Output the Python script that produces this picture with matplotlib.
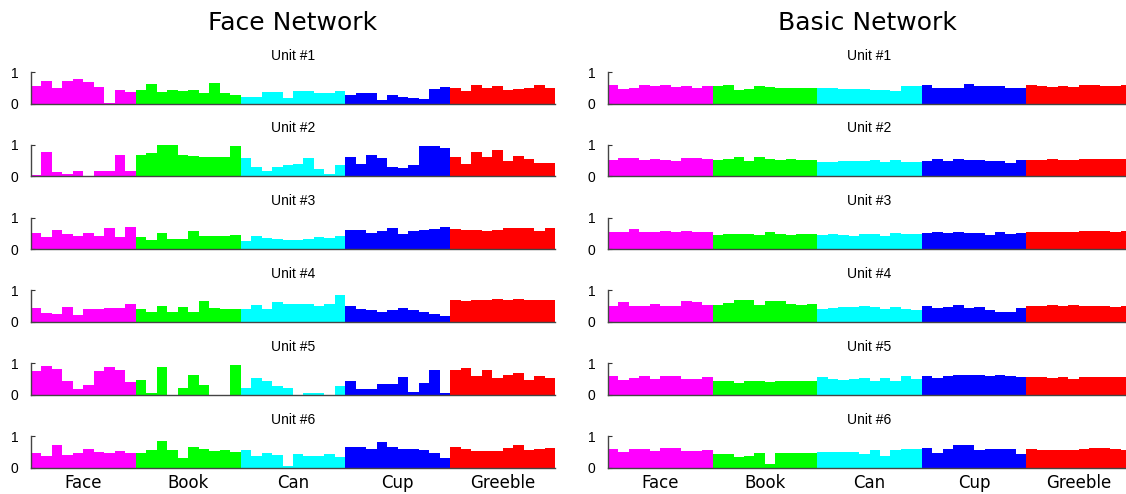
import numpy as np
import matplotlib
matplotlib.use("Agg")
import matplotlib.pyplot as plt

plt.rcParams['font.family'] = ['Liberation Sans', 'DejaVu Sans']

# categories and colours
categories = ['Face', 'Book', 'Can', 'Cup', 'Greeble']
cat_colors = ['#ff00ff', '#00ff00', '#00ffff', '#0000ff', '#ff0000']
n_per_cat = 10

# Face network, units 1-6 (10 stimuli per category)
face_u1 = [0.56, 0.72, 0.49, 0.72, 0.79, 0.67, 0.53, 0.02, 0.44, 0.37,
           0.44, 0.63, 0.37, 0.42, 0.40, 0.44, 0.32, 0.65, 0.32, 0.26,
           0.21, 0.22, 0.37, 0.36, 0.18, 0.40, 0.40, 0.34, 0.32, 0.40,
           0.28, 0.33, 0.33, 0.10, 0.26, 0.22, 0.18, 0.15, 0.45, 0.52,
           0.50, 0.40, 0.60, 0.50, 0.57, 0.42, 0.45, 0.50, 0.60, 0.50]
face_u2 = [0.05, 0.78, 0.14, 0.08, 0.18, 0.00, 0.16, 0.18, 0.68, 0.16,
           0.67, 0.74, 1.00, 1.00, 0.67, 0.65, 0.62, 0.62, 0.62, 0.96,
           0.57, 0.29, 0.16, 0.29, 0.36, 0.38, 0.57, 0.22, 0.08, 0.35,
           0.62, 0.38, 0.68, 0.57, 0.29, 0.25, 0.35, 0.95, 0.97, 0.90,
           0.62, 0.38, 0.76, 0.60, 0.85, 0.49, 0.65, 0.54, 0.42, 0.42]
face_u3 = [0.50, 0.38, 0.62, 0.47, 0.42, 0.50, 0.42, 0.67, 0.38, 0.70,
           0.37, 0.30, 0.50, 0.31, 0.33, 0.58, 0.42, 0.42, 0.40, 0.46,
           0.25, 0.40, 0.35, 0.33, 0.30, 0.30, 0.32, 0.38, 0.35, 0.40,
           0.60, 0.60, 0.52, 0.58, 0.68, 0.47, 0.58, 0.62, 0.63, 0.70,
           0.64, 0.60, 0.60, 0.57, 0.60, 0.68, 0.66, 0.66, 0.56, 0.66]
face_u4 = [0.43, 0.28, 0.25, 0.47, 0.23, 0.42, 0.42, 0.45, 0.45, 0.58,
           0.40, 0.30, 0.50, 0.30, 0.46, 0.30, 0.66, 0.45, 0.40, 0.42,
           0.42, 0.55, 0.40, 0.64, 0.57, 0.57, 0.57, 0.52, 0.56, 0.85,
           0.50, 0.42, 0.38, 0.32, 0.38, 0.43, 0.38, 0.30, 0.25, 0.20,
           0.68, 0.66, 0.70, 0.70, 0.72, 0.70, 0.72, 0.70, 0.68, 0.70]
face_u5 = [0.75, 0.90, 0.82, 0.45, 0.18, 0.30, 0.75, 0.87, 0.78, 0.40,
           0.47, 0.05, 0.87, 0.00, 0.20, 0.62, 0.30, 0.00, 0.00, 0.95,
           0.20, 0.52, 0.42, 0.28, 0.22, 0.00, 0.06, 0.06, 0.00, 0.28,
           0.43, 0.18, 0.18, 0.35, 0.35, 0.55, 0.10, 0.38, 0.78, 0.05,
           0.78, 0.86, 0.60, 0.77, 0.52, 0.63, 0.68, 0.48, 0.60, 0.52]
face_u6 = [0.45, 0.38, 0.70, 0.40, 0.45, 0.58, 0.50, 0.45, 0.52, 0.45,
           0.45, 0.57, 0.85, 0.57, 0.30, 0.65, 0.60, 0.53, 0.57, 0.50,
           0.55, 0.38, 0.47, 0.40, 0.05, 0.42, 0.35, 0.38, 0.42, 0.33,
           0.65, 0.65, 0.60, 0.82, 0.65, 0.60, 0.58, 0.57, 0.45, 0.30,
           0.65, 0.60, 0.53, 0.53, 0.53, 0.62, 0.70, 0.57, 0.60, 0.62]

# Basic network, units 1-6
basic_u1 = [0.58, 0.47, 0.50, 0.58, 0.55, 0.58, 0.52, 0.55, 0.50, 0.55,
            0.55, 0.60, 0.42, 0.45, 0.55, 0.52, 0.50, 0.50, 0.48, 0.50,
            0.48, 0.48, 0.47, 0.47, 0.47, 0.44, 0.42, 0.40, 0.55, 0.55,
            0.58, 0.50, 0.50, 0.50, 0.63, 0.55, 0.55, 0.55, 0.50, 0.50,
            0.58, 0.55, 0.52, 0.55, 0.52, 0.58, 0.58, 0.55, 0.55, 0.58]
basic_u2 = [0.52, 0.58, 0.58, 0.52, 0.55, 0.52, 0.48, 0.58, 0.58, 0.55,
            0.52, 0.55, 0.60, 0.50, 0.60, 0.55, 0.53, 0.55, 0.52, 0.53,
            0.45, 0.45, 0.47, 0.48, 0.50, 0.52, 0.44, 0.52, 0.45, 0.45,
            0.50, 0.55, 0.48, 0.55, 0.53, 0.52, 0.48, 0.47, 0.43, 0.52,
            0.52, 0.53, 0.55, 0.52, 0.53, 0.55, 0.55, 0.55, 0.55, 0.55]
basic_u3 = [0.55, 0.55, 0.63, 0.55, 0.55, 0.58, 0.55, 0.58, 0.55, 0.55,
            0.45, 0.47, 0.48, 0.48, 0.45, 0.55, 0.48, 0.45, 0.47, 0.47,
            0.45, 0.47, 0.45, 0.42, 0.47, 0.47, 0.43, 0.50, 0.48, 0.48,
            0.52, 0.55, 0.52, 0.55, 0.52, 0.50, 0.45, 0.55, 0.47, 0.50,
            0.55, 0.55, 0.55, 0.55, 0.55, 0.58, 0.58, 0.58, 0.55, 0.58]
basic_u4 = [0.50, 0.62, 0.50, 0.50, 0.58, 0.50, 0.50, 0.65, 0.62, 0.55,
            0.55, 0.60, 0.70, 0.70, 0.55, 0.65, 0.65, 0.58, 0.55, 0.57,
            0.40, 0.45, 0.47, 0.47, 0.50, 0.47, 0.42, 0.47, 0.42, 0.37,
            0.52, 0.43, 0.47, 0.55, 0.43, 0.47, 0.38, 0.32, 0.32, 0.43,
            0.50, 0.52, 0.55, 0.52, 0.55, 0.50, 0.52, 0.50, 0.48, 0.50]
basic_u5 = [0.58, 0.48, 0.52, 0.58, 0.50, 0.58, 0.58, 0.50, 0.50, 0.55,
            0.45, 0.45, 0.38, 0.42, 0.42, 0.40, 0.42, 0.43, 0.45, 0.45,
            0.55, 0.50, 0.47, 0.50, 0.52, 0.45, 0.52, 0.45, 0.58, 0.50,
            0.58, 0.52, 0.60, 0.62, 0.62, 0.62, 0.58, 0.62, 0.58, 0.55,
            0.55, 0.55, 0.52, 0.55, 0.50, 0.55, 0.57, 0.57, 0.57, 0.57]
basic_u6 = [0.58, 0.48, 0.58, 0.58, 0.52, 0.62, 0.62, 0.52, 0.52, 0.55,
            0.43, 0.43, 0.33, 0.38, 0.47, 0.12, 0.45, 0.47, 0.45, 0.47,
            0.50, 0.48, 0.50, 0.48, 0.42, 0.55, 0.37, 0.55, 0.60, 0.60,
            0.62, 0.45, 0.60, 0.70, 0.70, 0.55, 0.58, 0.58, 0.58, 0.42,
            0.58, 0.57, 0.55, 0.57, 0.57, 0.60, 0.62, 0.62, 0.58, 0.57]

face_units = [face_u1, face_u2, face_u3, face_u4, face_u5, face_u6]
basic_units = [basic_u1, basic_u2, basic_u3, basic_u4, basic_u5, basic_u6]

W, H = 1126, 494
fig = plt.figure(figsize=(W / 100, H / 100), dpi=100)

# pixel layout
col_x = [(31, 555), (608, 1131)]
row_top0, row_h, row_step = 72, 31.5, 72.8

colors = np.repeat(cat_colors, n_per_cat)
xs = np.arange(len(categories) * n_per_cat)
centers = np.arange(len(categories)) * n_per_cat + n_per_cat / 2

for c, (units, name) in enumerate([(face_units, 'Face Network'),
                                   (basic_units, 'Basic Network')]):
    x0, x1 = col_x[c]
    for r, vals in enumerate(units):
        top = row_top0 + r * row_step
        ax = fig.add_axes([x0 / W, 1 - (top + row_h) / H, (x1 - x0) / W, row_h / H])
        ax.bar(xs, vals, width=1.0, align='edge', color=colors, linewidth=0)
        ax.set_xlim(0, len(xs))
        ax.set_ylim(0, 1)
        ax.set_yticks([0, 1])
        ax.set_yticklabels(['0', '1'], fontsize=10)
        ax.tick_params(axis='y', direction='in', length=3, pad=9, color='#333333')
        ax.set_xticks(centers)
        if r == len(units) - 1:
            ax.set_xticklabels(categories, fontsize=12, family='DejaVu Sans')
        else:
            ax.set_xticklabels([])
        ax.tick_params(axis='x', length=0, pad=5)
        for s in ['top', 'right']:
            ax.spines[s].set_visible(False)
        for s in ['left', 'bottom']:
            ax.spines[s].set_color('#444444')
            ax.spines[s].set_linewidth(1.0)
        ax.set_title('Unit #%d' % (r + 1), fontsize=10, pad=9)
    fig.text((x0 + min(x1, W)) / 2 / W, 1 - 23 / H, name, fontsize=18,
             family='DejaVu Sans', ha='center', va='center')

fig.savefig('out.png', dpi=100)
